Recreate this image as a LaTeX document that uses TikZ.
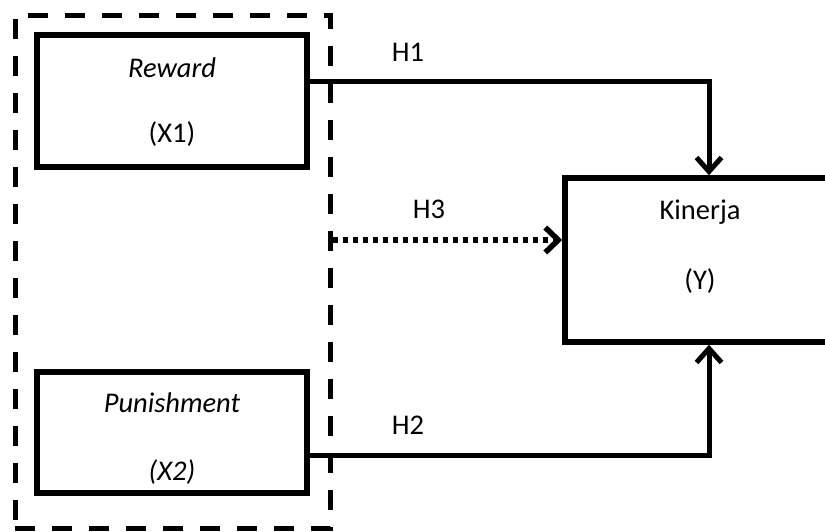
\documentclass[tikz,border=0pt]{standalone}
\usepackage{fontspec}
\setmainfont{Carlito}
\usetikzlibrary{arrows.meta}
\begin{document}
\begin{tikzpicture}[x=1pt,y=-1pt,
  box/.style={draw,line width=5.5pt,minimum width=270pt,inner sep=0pt,fill=white},
  grp/.style={draw,line width=5pt,dash pattern=on 20pt off 17pt,minimum width=315pt,minimum height=513pt,inner sep=0pt},
  lbl/.style={font=\fontsize{28.5}{32}\selectfont,inner sep=0pt},
  conn/.style={line width=5pt,-{Straight Barb[length=14pt,width=25pt]}},
  dots/.style={line width=5.5pt,dash pattern=on 5pt off 5pt,-{Straight Barb[length=13pt,width=25pt]}}]
\useasboundingbox (0,0) rectangle (825,531);
\clip (0,0) rectangle (825,531);
\fill[white] (0,0) rectangle (825,531);
\node[grp] (g) at (172.5,271.5) {};
\node[box,minimum height=132pt] (r) at (172,101) {};
\node[box,minimum height=121pt] (p) at (172,432.5) {};
\node[box,minimum height=164pt] (k) at (700,260) {};
\node[lbl] (rt) at (172,68) {\textit{Reward}};
\node[lbl] (rx) at (172,134) {(X1)};
\node[lbl] (pt) at (172,403) {\textit{Punishment}};
\node[lbl] (px) at (172,472) {\textit{(X2)}};
\node[lbl] (kt) at (700,212) {Kinerja};
\node[lbl] (ky) at (700,281) {(Y)};
\coordinate (y1) at (0,81);
\coordinate (y2) at (0,455);
\coordinate (y3) at (0,240);
\coordinate (xa) at (709,0);
\draw[conn] (r.east |- y1) -| (xa |- k.north);
\draw[conn] (p.east |- y2) -| (xa |- k.south);
\draw[dots] (g.east |- y3) -- (k.west |- y3);
\node[lbl] (h1) at (408,52) {H1};
\node[lbl] (h2) at (408,425) {H2};
\node[lbl] (h3) at (429,209) {H3};
\end{tikzpicture}
\end{document}
